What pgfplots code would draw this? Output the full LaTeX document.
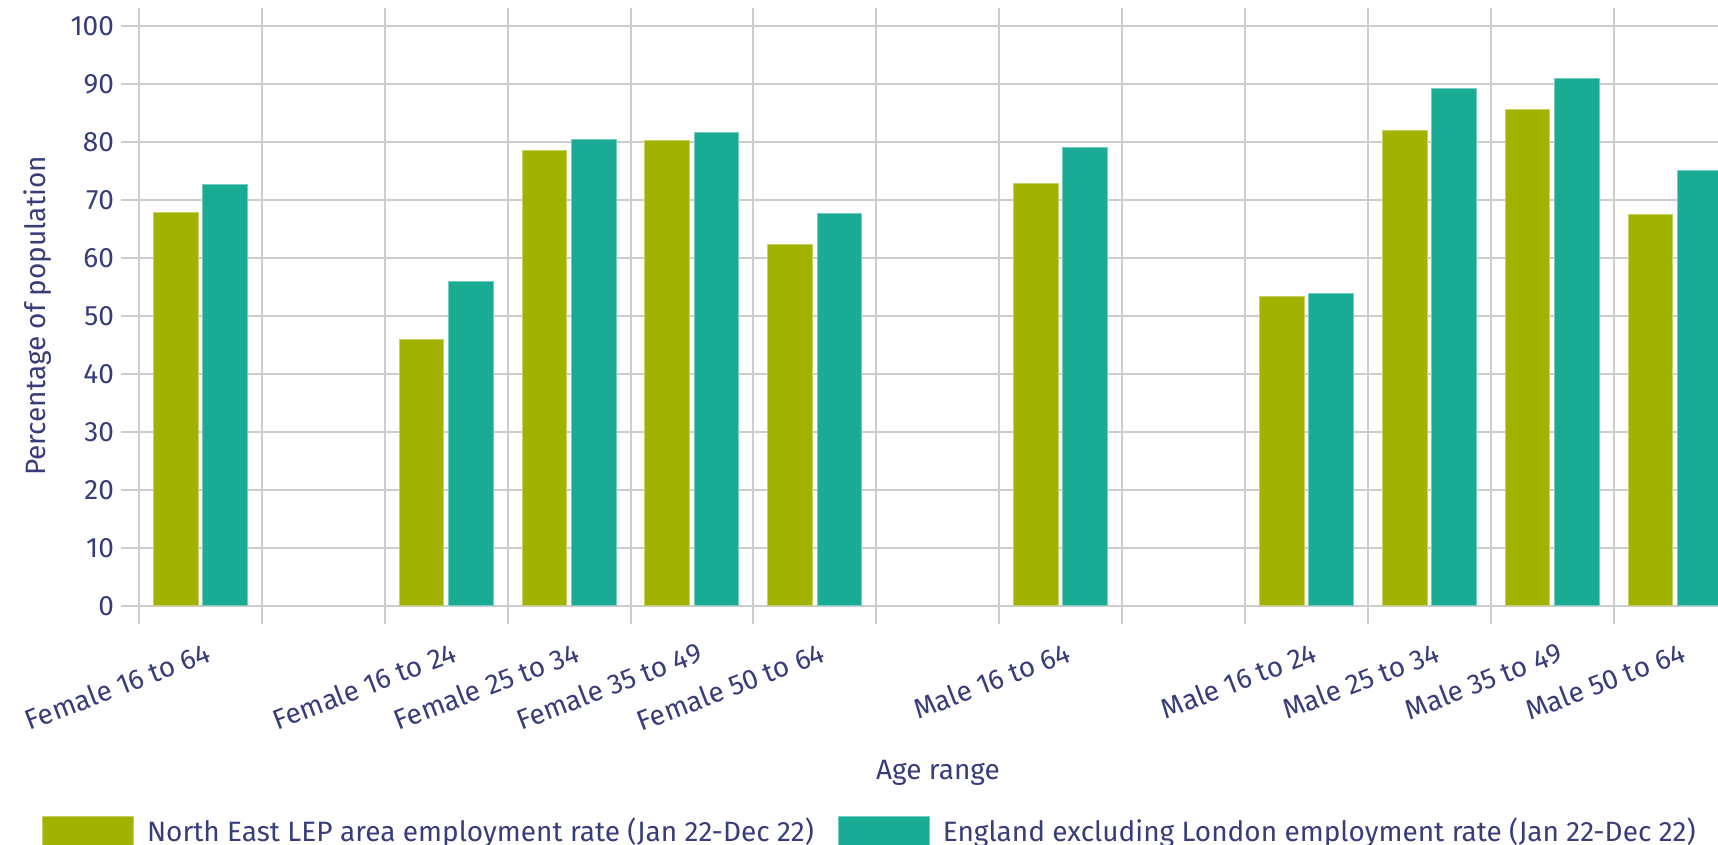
\documentclass[border=0pt]{standalone}
\usepackage{pgfplots}
\pgfplotsset{compat=1.18}
\usepackage{fontspec}
\setmainfont{Fira Sans}
\definecolor{nelep}{HTML}{A2B200}
\definecolor{engx}{HTML}{19AB94}
\definecolor{txt}{HTML}{383D7A}
\definecolor{gridc}{HTML}{CDCDCD}
\newcommand{\fsz}{\fontsize{14}{16}\selectfont}

% Employment rates by age range, Jan 22-Dec 22
% x: category slot (gaps at 1, 6, 8)
\pgfplotstableread{
x   ne    eng
0   67.9  72.6
2   46.0  55.9
3   78.5  80.4
4   80.2  81.6
5   62.4  67.6
7   72.9  79.0
9   53.4  53.9
10  81.9  89.2
11  85.6  91.0
12  67.5  75.0
}\ratedata

\begin{document}
\begin{tikzpicture}
\begin{axis}[
  at={(0,0)}, anchor=south west,
  scale only axis, width=789.5pt, height=290pt,
  ybar, bar width=22.4pt,
  xmin=-0.5, xmax=12.35, ymin=0, ymax=100,
  enlargelimits=false,
  xtick={-0.5,0.5,...,12.5}, xticklabels={,,,,,,,,,,,,,,},
  extra x ticks={0,2,3,4,5,7,9,10,11,12},
  extra x tick labels={Female 16 to 64,Female 16 to 24,Female 25 to 34,Female 35 to 49,Female 50 to 64,Male 16 to 64,Male 16 to 24,Male 25 to 34,Male 35 to 49,Male 50 to 64},
  extra x tick style={grid=none, major tick length=0pt,
    xticklabel style={rotate=21, anchor=north east, inner sep=0pt, xshift=-4pt, yshift=-17pt}},
  ytick={0,10,...,100},
  grid=major, major grid style={gridc, line width=1pt},
  tick align=outside, major tick length=9pt,
  tick style={gridc, line width=1pt},
  axis line style={draw=none},
  tick label style={font=\fsz, text=txt},
  label style={font=\fsz, text=txt},
  /pgf/number format/assume math mode=true,
  xlabel={Age range},
  xlabel style={at={(axis description cs:0.506,-0.2885)}, anchor=center},
  ylabel={Percentage of population},
  ylabel style={at={(axis description cs:-0.064,0.5)}, anchor=center, rotate=0},
  legend columns=2,
  legend style={at={(axis description cs:-0.0614,-0.362)}, anchor=north west,
    draw=none, fill=none, inner sep=0pt, outer sep=0pt, font=\fsz, text=txt,
    nodes={inner sep=0pt},
    /tikz/every odd column/.append style={column sep=6.5pt},
    /tikz/every even column/.append style={column sep=12pt}},
  legend image code/.code={\fill[#1] (0pt,-7.5pt) rectangle (45.5pt,7.5pt);},
]
\addplot[fill=nelep, draw=nelep!60!white, line width=0.5pt, bar shift=-12.3pt]
  table[x=x, y=ne] {\ratedata};
\addplot[fill=engx, draw=engx!60!white, line width=0.5pt, bar shift=12.3pt]
  table[x=x, y=eng] {\ratedata};
\legend{North East LEP area employment rate (Jan 22-Dec 22),England excluding London employment rate (Jan 22-Dec 22)}
\end{axis}
\pgfresetboundingbox
\path[use as bounding box] (-69.5pt,-119.5pt) rectangle (789.5pt,303pt);
\end{tikzpicture}
\end{document}
